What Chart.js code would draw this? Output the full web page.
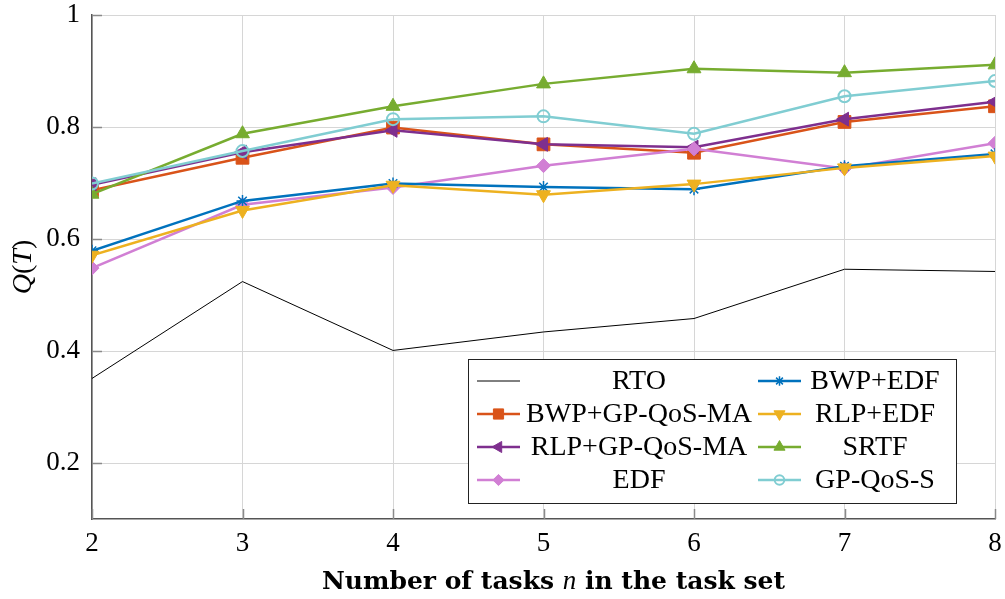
<!DOCTYPE html>
<html>
<head>
<meta charset="utf-8">
<script src="https://cdn.jsdelivr.net/npm/chart.js@4"></script>
<style>
    body { margin: 0; background: #fff; }
    canvas { display: block; }
</style>
</head>
<body>
<canvas id="quality-chart" width="1005" height="599"></canvas>
<script>
// Quality Q(T) per scheduling strategy vs. number of tasks

const taskCounts = [2, 3, 4, 5, 6, 7, 8];
const yTicks = [0.2, 0.4, 0.6, 0.8, 1];

const rto        = [0.351, 0.524, 0.401, 0.434, 0.458, 0.546, 0.542];
const bwpGpQosMa = [0.687, 0.745, 0.799, 0.769, 0.754, 0.809, 0.837];
const rlpGpQosMa = [0.697, 0.755, 0.794, 0.769, 0.764, 0.814, 0.845];
const edf        = [0.548, 0.661, 0.692, 0.731, 0.761, 0.726, 0.771];
const bwpEdf     = [0.579, 0.668, 0.699, 0.693, 0.689, 0.730, 0.752];
const rlpEdf     = [0.571, 0.651, 0.696, 0.679, 0.698, 0.727, 0.748];
const srtf       = [0.680, 0.788, 0.837, 0.877, 0.904, 0.897, 0.911];
const gpQosS     = [0.699, 0.757, 0.814, 0.819, 0.788, 0.855, 0.882];

const SERIF = '"Liberation Serif", "DejaVu Serif", serif';
const WIDE_SERIF = '"DejaVu Serif", "Liberation Serif", serif';

function series(label, values, color, style) {
    return Object.assign({
        label: label,
        data: taskCounts.map((n, i) => ({ x: n, y: values[i] })),
        borderColor: color,
        backgroundColor: color,
        pointBorderColor: color,
        pointBackgroundColor: color,
        borderWidth: 2.5,
        pointRadius: 7,
        pointBorderWidth: 1,
        pointRotation: 0,
        tension: 0
    }, style);
}

const datasets = [
    series('RTO', rto, '#000000', { borderWidth: 1, pointRadius: 0 }),
    series('BWP+GP-QoS-MA', bwpGpQosMa, '#D95319', { pointStyle: 'rect', pointRadius: 9 }),
    series('RLP+GP-QoS-MA', rlpGpQosMa, '#7E2F8E', { pointStyle: 'triangle', pointRotation: -90, pointRadius: 8 }),
    series('EDF', edf, '#D17FD4', { pointStyle: 'rectRot', pointRadius: 7 }),
    series('BWP+EDF', bwpEdf, '#0072BD', { pointStyle: 'star', pointRadius: 6, pointBorderWidth: 1.5 }),
    series('RLP+EDF', rlpEdf, '#EDB120', { pointStyle: 'triangle', pointRotation: 180, pointRadius: 8 }),
    series('SRTF', srtf, '#77AC30', { pointStyle: 'triangle', pointRadius: 8 }),
    series('GP-QoS-S', gpQosS, '#80CDD2', { pointStyle: 'circle', pointRadius: 6, pointBorderWidth: 2,
        pointBackgroundColor: 'rgba(0,0,0,0)' })
];
// later series are drawn on top
datasets.forEach((d, i) => { d.order = datasets.length - i; });

// Inner tick marks, axis titles and the boxed two-column legend
const decorations = {
    id: 'decorations',
    afterDatasetsDraw(chart) {
        const ctx = chart.ctx;
        const area = chart.chartArea;
        const xs = chart.scales.x;
        const ys = chart.scales.y;

        ctx.save();
        ctx.strokeStyle = '#8a8a8a';
        ctx.lineWidth = 1.5;
        ctx.beginPath();
        yTicks.forEach(v => {
            const y = Math.round(ys.getPixelForValue(v)) + 0.5;
            ctx.moveTo(area.left, y);
            ctx.lineTo(area.left + 10, y);
        });
        taskCounts.forEach(n => {
            const x = Math.round(xs.getPixelForValue(n)) + 0.5;
            ctx.moveTo(x, area.bottom);
            ctx.lineTo(x, area.bottom - 10);
        });
        ctx.stroke();

        // legend box
        const box = { left: 468, top: 359, right: 956, bottom: 503 };
        ctx.fillStyle = '#ffffff';
        ctx.fillRect(box.left, box.top, box.right - box.left, box.bottom - box.top);
        ctx.strokeStyle = '#222';
        ctx.lineWidth = 1;
        ctx.strokeRect(box.left + 0.5, box.top + 0.5, box.right - box.left, box.bottom - box.top);

        const rowY = [381, 414, 447, 480];
        const cols = [
            { lineFrom: 477, lineTo: 520, textX: 639 },
            { lineFrom: 758, lineTo: 801, textX: 875 }
        ];
        ctx.font = '28px ' + SERIF;
        ctx.textAlign = 'center';
        ctx.textBaseline = 'middle';
        chart.data.datasets.forEach((d, i) => {
            const col = cols[Math.floor(i / 4)];
            const y = rowY[i % 4];
            ctx.strokeStyle = d.borderColor;
            ctx.lineWidth = d.borderWidth;
            ctx.beginPath();
            ctx.moveTo(col.lineFrom, y);
            ctx.lineTo(col.lineTo, y);
            ctx.stroke();
            if (d.pointRadius > 0) {
                ctx.fillStyle = d.pointBackgroundColor;
                ctx.strokeStyle = d.pointBorderColor;
                ctx.lineWidth = d.pointBorderWidth;
                Chart.helpers.drawPoint(ctx, {
                    pointStyle: d.pointStyle,
                    rotation: d.pointRotation,
                    radius: d.pointRadius * 0.8,
                    borderWidth: d.pointBorderWidth
                }, (col.lineFrom + col.lineTo) / 2, y);
            }
            ctx.fillStyle = '#000';
            ctx.fillText(d.label, col.textX, y + 1);
        });

        // x axis title: bold text with italic n
        const parts = [
            { t: 'Number of tasks ', f: 'bold 25px ' + WIDE_SERIF },
            { t: 'n', f: 'italic 27px ' + SERIF },
            { t: ' in the task set', f: 'bold 25px ' + WIDE_SERIF }
        ];
        drawRun(ctx, parts, (area.left + area.right) / 2 + 10, 582);

        // y axis title Q(T), rotated
        ctx.save();
        ctx.translate(24, (area.top + area.bottom) / 2);
        ctx.rotate(-Math.PI / 2);
        drawRun(ctx, [
            { t: 'Q', f: 'italic 28px ' + SERIF },
            { t: '(', f: '28px ' + SERIF },
            { t: 'T', f: 'italic 28px ' + SERIF },
            { t: ')', f: '28px ' + SERIF }
        ], 0, 0);
        ctx.restore();

        ctx.restore();
    }
};

function drawRun(ctx, parts, cx, cy) {
    let total = 0;
    parts.forEach(p => { ctx.font = p.f; p.w = ctx.measureText(p.t).width; total += p.w; });
    let x = cx - total / 2;
    ctx.fillStyle = '#000';
    ctx.textAlign = 'left';
    ctx.textBaseline = 'middle';
    parts.forEach(p => {
        ctx.font = p.f;
        ctx.fillText(p.t, x, cy);
        x += p.w;
    });
}

new Chart(document.getElementById('quality-chart'), {
    type: 'line',
    data: { datasets: datasets },
    options: {
        responsive: false,
        animation: false,
        events: [],
        layout: { padding: { top: 15, right: 10, left: 0, bottom: 0 } },
        plugins: {
            legend: { display: false },
            tooltip: { enabled: false },
            title: { display: false }
        },
        scales: {
            x: {
                type: 'linear',
                min: 2,
                max: 8,
                afterFit(scale) {
                    scale.height = 80;
                    scale.paddingLeft = 0;
                    scale.paddingRight = 0;
                },
                afterBuildTicks(scale) { scale.ticks = taskCounts.map(v => ({ value: v })); },
                ticks: {
                    color: '#000',
                    font: { family: SERIF, size: 27 },
                    padding: 9,
                    maxRotation: 0
                },
                grid: { color: '#d6d6d6', lineWidth: 1, drawTicks: false },
                border: { color: '#555', width: 1.5 }
            },
            y: {
                min: 0.1,
                max: 1,
                afterFit(scale) {
                    scale.width = 92;
                    scale.paddingTop = 0;
                    scale.paddingBottom = 0;
                },
                afterBuildTicks(scale) { scale.ticks = yTicks.map(v => ({ value: v })); },
                ticks: {
                    color: '#000',
                    font: { family: SERIF, size: 27 },
                    padding: 12,
                    callback: v => String(+v.toFixed(1))
                },
                grid: { color: '#d6d6d6', lineWidth: 1, drawTicks: false },
                border: { color: '#555', width: 1.5 }
            }
        }
    },
    plugins: [decorations]
});
</script>
</body>
</html>
